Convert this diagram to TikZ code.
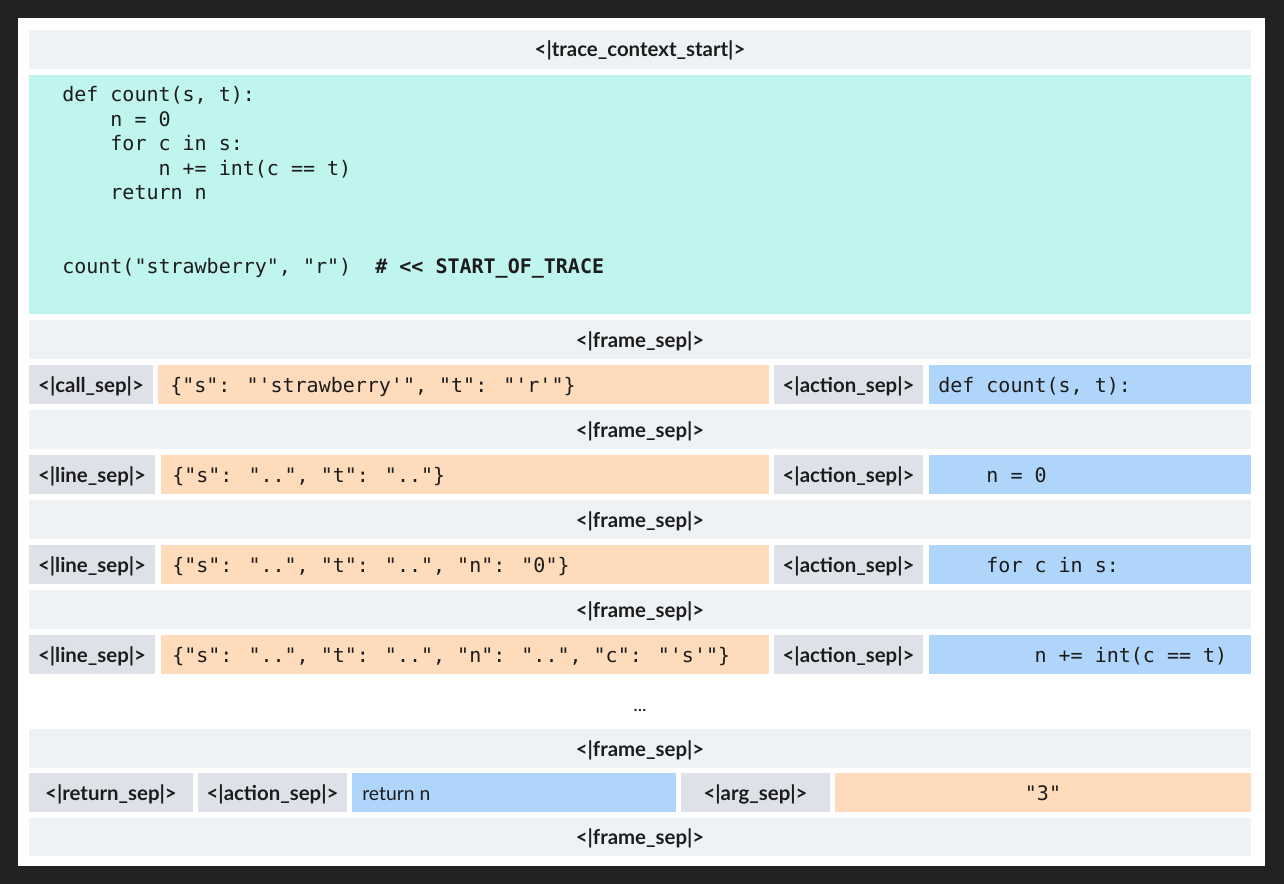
\documentclass[tikz,border=0pt]{standalone}
\usepackage{fontspec}
\setmainfont{Lato}
\newfontfamily\codefont{DejaVu Sans Mono}
\definecolor{bgdark}{HTML}{222222}
\definecolor{framegray}{HTML}{EFF2F5}
\definecolor{sepgray}{HTML}{DEE2E8}
\definecolor{codecyan}{HTML}{C0F4EE}
\definecolor{argorange}{HTML}{FEDBBB}
\definecolor{actblue}{HTML}{B0D5FB}
\definecolor{ink}{HTML}{1C1C1C}
\tikzset{
  septext/.style={font=\fontsize{15.3}{18}\selectfont\bfseries, text=ink, inner sep=0pt, anchor=base},
  codetext/.style={font=\codefont\fontsize{15}{18}\selectfont, text=ink, inner sep=0pt, anchor=base west},
  plaintext/.style={font=\fontsize{14.5}{17}\selectfont, text=ink, inner sep=0pt, anchor=base west},
}
\begin{document}
\begin{tikzpicture}[x=0.75pt,y=-0.75pt]
\fill[bgdark] (0,0) rectangle (1284,884);
\fill[white] (18,18) rectangle (1265,866);
% header
\fill[framegray] (29,30) rectangle (1251,69);
\node[septext] (tcs) at (640,57) {<|trace\_context\_start|>};
% code block
\fill[codecyan] (29,75) rectangle (1251,314);
\node[codetext] (c1) at (62,102) {def count(s, t):};
\node[codetext] (c2) at (62,126.4) {\hphantom{0000}n = 0};
\node[codetext] (c3) at (62,150.8) {\hphantom{0000}for c in s:};
\node[codetext] (c4) at (62,175.2) {\hphantom{00000000}n += int(c == t)};
\node[codetext] (c5) at (62,199.6) {\hphantom{0000}return n};
\node[codetext] (c6) at (62,273) {count("strawberry", "r")\hphantom{00}\bfseries\#~<<~START\_OF\_TRACE};
% frame 1
\fill[framegray] (29,320) rectangle (1251,359);
\node[septext] (f1) at (640,347) {<|frame\_sep|>};
% row 1
\fill[sepgray] (29,365) rectangle (153,404);
\fill[argorange] (158,365) rectangle (769,404);
\fill[sepgray] (774,365) rectangle (923,404);
\fill[actblue] (929,365) rectangle (1251,404);
\node[septext] (r1s) at (91,392) {<|call\_sep|>};
\node[codetext] (r1a) at (170,392) {\{"s": "'strawberry'", "t": "'r'"\}};
\node[septext] (r1t) at (848.5,392) {<|action\_sep|>};
\node[codetext] (r1b) at (938,392) {def count(s, t):};
% frame 2
\fill[framegray] (29,410) rectangle (1251,449);
\node[septext] (f2) at (640,437) {<|frame\_sep|>};
% row 2
\fill[sepgray] (29,455) rectangle (155,494);
\fill[argorange] (161,455) rectangle (769,494);
\fill[sepgray] (774,455) rectangle (923,494);
\fill[actblue] (929,455) rectangle (1251,494);
\node[septext] (r2s) at (92,482) {<|line\_sep|>};
\node[codetext] (r2a) at (172,482) {\{"s": "..", "t": ".."\}};
\node[septext] (r2t) at (848.5,482) {<|action\_sep|>};
\node[codetext] (r2b) at (938,482) {\hphantom{0000}n = 0};
% frame 3
\fill[framegray] (29,500) rectangle (1251,539);
\node[septext] (f3) at (640,527) {<|frame\_sep|>};
% row 3
\fill[sepgray] (29,545) rectangle (155,584);
\fill[argorange] (161,545) rectangle (769,584);
\fill[sepgray] (774,545) rectangle (923,584);
\fill[actblue] (929,545) rectangle (1251,584);
\node[septext] (r3s) at (92,572) {<|line\_sep|>};
\node[codetext] (r3a) at (172,572) {\{"s": "..", "t": "..", "n": "0"\}};
\node[septext] (r3t) at (848.5,572) {<|action\_sep|>};
\node[codetext] (r3b) at (938,572) {\hphantom{0000}for c in s:};
% frame 4
\fill[framegray] (29,590) rectangle (1251,629);
\node[septext] (f4) at (640,617) {<|frame\_sep|>};
% row 4
\fill[sepgray] (29,635) rectangle (155,674);
\fill[argorange] (161,635) rectangle (769,674);
\fill[sepgray] (774,635) rectangle (923,674);
\fill[actblue] (929,635) rectangle (1251,674);
\node[septext] (r4s) at (92,662) {<|line\_sep|>};
\node[codetext] (r4a) at (172,662) {\{"s": "..", "t": "..", "n": "..", "c": "'s'"\}};
\node[septext] (r4t) at (848.5,662) {<|action\_sep|>};
\node[codetext] (r4b) at (938,662) {\hphantom{00000000}n += int(c == t)};
% ellipsis
\node[septext, font=\fontsize{14}{16}\selectfont] (dots) at (640,711) {...};
% frame 5
\fill[framegray] (29,729) rectangle (1251,768);
\node[septext] (f5) at (640,756) {<|frame\_sep|>};
% return row
\fill[sepgray] (29,773) rectangle (193,812);
\fill[sepgray] (198,773) rectangle (347,812);
\fill[actblue] (352,773) rectangle (676,812);
\fill[sepgray] (681,773) rectangle (830,812);
\fill[argorange] (835,773) rectangle (1251,812);
\node[septext] (r5s) at (111,800) {<|return\_sep|>};
\node[septext] (r5t) at (272.5,800) {<|action\_sep|>};
\node[plaintext] (r5b) at (362,800) {return n};
\node[septext] (r5g) at (755.5,800) {<|arg\_sep|>};
\node[codetext, anchor=base] (r5v) at (1043,800) {"3"};
% frame 6
\fill[framegray] (29,818) rectangle (1251,856);
\node[septext] (f6) at (640,844) {<|frame\_sep|>};
\end{tikzpicture}
\end{document}
